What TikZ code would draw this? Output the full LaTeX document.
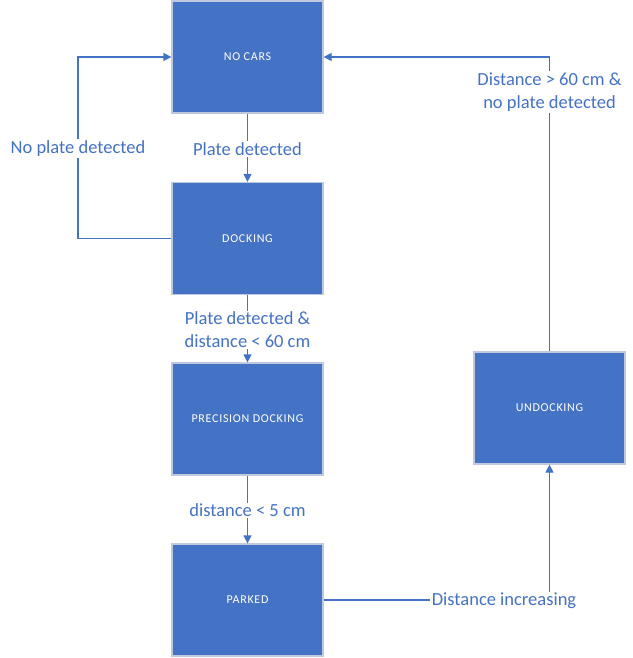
\documentclass[tikz,border=0pt]{standalone}
\usepackage{fontspec}
\setmainfont{Carlito}
\usetikzlibrary{arrows.meta}
\definecolor{boxblue}{HTML}{4472C4}
\definecolor{boxedge}{RGB}{190,200,222}
\begin{document}
\begin{tikzpicture}[x=1pt,y=-1pt,
 state/.style={draw=boxedge,fill=boxblue,line width=1.2pt,minimum width=151pt,minimum height=112pt,inner sep=0pt,text=white,font=\fontsize{12}{14}\selectfont\addfontfeature{LetterSpace=6}},
 conn/.style={draw=boxblue,line width=1.2pt,-{Triangle[length=8pt,width=8pt]}},
 lab/.style={fill=white,text=boxblue,font=\fontsize{18.5}{22.5}\selectfont,inner sep=1.5pt,align=center,yshift=-1pt}]
\useasboundingbox (0,0) rectangle (632,658);
\node[state] (nocars) at (247.5,57) {NO CARS};
\node[state] (docking) at (247.5,238.5) {DOCKING};
\node[state] (prec) at (247.5,419) {PRECISION DOCKING};
\node[state] (parked) at (247.5,600) {PARKED};
\node[state] (undock) at (549.5,408) {UNDOCKING};
\coordinate (cl) at (78,238.5);
\coordinate (cu) at (78,57);
\coordinate (cpk) at (549.5,600);
\coordinate (cnu) at (549.5,57);
\draw[conn] (nocars) -- node[lab]{Plate detected} (docking);
\draw[conn] (docking.west) -- (cl) -- node[lab]{No plate detected} (cu) -- (nocars.west);
\draw[conn] (docking) -- node[lab]{Plate detected \&\\distance < 60 cm} (prec);
\draw[conn] (prec) -- node[lab]{distance < 5 cm} (parked);
\draw[conn] (parked.east) -- (cpk) -- (undock.south);
\node[lab] (lincr) at (504,600) {Distance increasing};
\draw[conn] (undock.north) -- (cnu) -- (nocars.east);
\node[lab] (lfar) at (549.5,91) {Distance > 60 cm \&\\no plate detected};
\end{tikzpicture}
\end{document}
